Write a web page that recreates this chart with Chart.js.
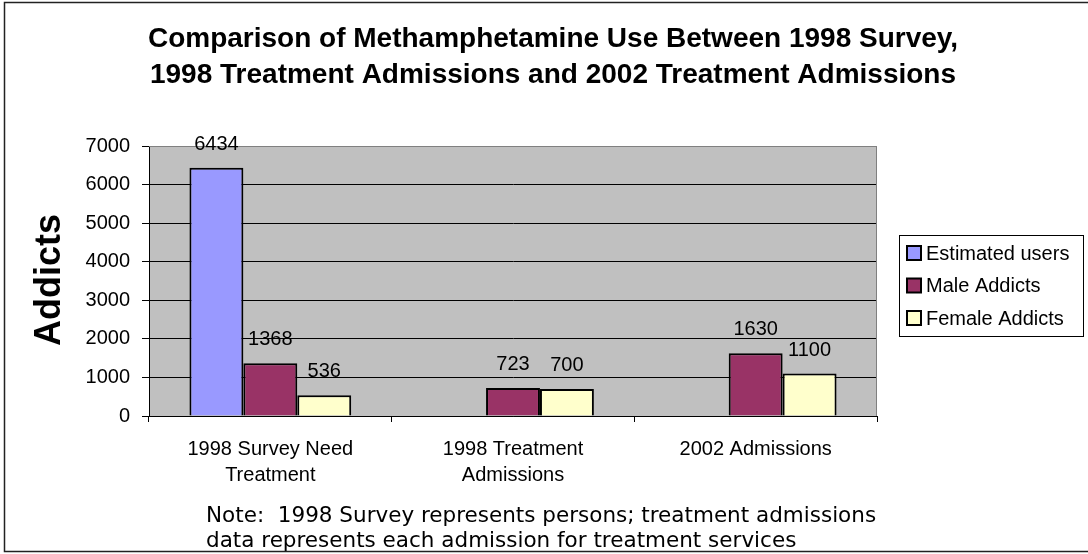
<!DOCTYPE html>
<html>
<head>
<meta charset="utf-8">
<script src="https://cdn.jsdelivr.net/npm/chart.js@4/dist/chart.umd.min.js"></script>
<style>
  html, body { margin: 0; padding: 0; background: #ffffff; }
  #wrap { width: 1088px; height: 554px; }
</style>
</head>
<body>
<div id="wrap"><canvas id="c" width="1088" height="554"></canvas></div>
<script>
// Categories (multi-line axis labels)
const categories = [
  ['1998 Survey Need', 'Treatment'],
  ['1998 Treatment', 'Admissions'],
  '2002 Admissions'
];
// Series values
const estimatedUsers = [6434, null, null];
const maleAddicts = [1368, 723, 1630];
const femaleAddicts = [536, 700, 1100];
// Y tick range
const yMin = 0, yMax = 7000, yStep = 1000;

const titleLines = [
  'Comparison of Methamphetamine Use Between 1998 Survey,',
  '1998 Treatment Admissions and 2002 Treatment Admissions'
];
const yTitle = 'Addicts';
const noteLines = [
  'Note:  1998 Survey represents persons; treatment admissions',
  'data represents each admission for treatment services'
];

const SANS = '"Liberation Sans", Arial, sans-serif';

// Gray plot background with a darker frame on top/right
const plotBackground = {
  id: 'plotBackground',
  beforeDraw(chart) {
    const { ctx, chartArea: a } = chart;
    ctx.save();
    ctx.fillStyle = '#ffffff';
    ctx.fillRect(0, 0, chart.width, chart.height);
    ctx.fillStyle = '#c0c0c0';
    ctx.fillRect(a.left, a.top, a.right - a.left, a.bottom - a.top);
    ctx.restore();
  },
  beforeDatasetsDraw(chart) {
    const { ctx, chartArea: a } = chart;
    ctx.save();
    ctx.strokeStyle = '#808080';
    ctx.lineWidth = 1;
    ctx.beginPath();
    ctx.moveTo(a.left, a.top + 0.5);
    ctx.lineTo(a.right - 0.5, a.top + 0.5);
    ctx.lineTo(a.right - 0.5, a.bottom);
    ctx.stroke();
    ctx.restore();
  }
};

// Value labels above each bar
const valueLabels = {
  id: 'valueLabels',
  afterDatasetsDraw(chart) {
    const { ctx } = chart;
    ctx.save();
    ctx.font = '20px ' + SANS;
    ctx.fillStyle = '#000';
    ctx.textAlign = 'center';
    ctx.textBaseline = 'alphabetic';
    chart.data.datasets.forEach((ds, i) => {
      const meta = chart.getDatasetMeta(i);
      meta.data.forEach((el, j) => {
        const v = ds.data[j];
        if (v === null || v === undefined) return;
        ctx.fillText(String(v), el.x, el.y - 18);
      });
    });
    ctx.restore();
  }
};

// Title, axis title, note, boxed legend and outer frame
const decorations = {
  id: 'decorations',
  afterDraw(chart) {
    const { ctx } = chart;
    ctx.save();
    ctx.fillStyle = '#000';

    // Title
    ctx.font = 'bold 28px ' + SANS;
    ctx.textAlign = 'center';
    ctx.textBaseline = 'middle';
    ctx.fillText(titleLines[0], 553, 39);
    ctx.fillText(titleLines[1], 553, 75);

    // Y axis title
    ctx.save();
    ctx.translate(50, 280);
    ctx.rotate(-Math.PI / 2);
    ctx.font = 'bold 36px ' + SANS;
    ctx.fillText(yTitle, 0, 0);
    ctx.restore();

    // Note
    ctx.font = '21.5px "DejaVu Sans", Verdana, sans-serif';
    ctx.textAlign = 'left';
    ctx.textBaseline = 'alphabetic';
    ctx.fillText(noteLines[0], 206, 522);
    ctx.fillText(noteLines[1], 206, 547);

    // Legend
    const lx = 899.5, ly = 235.5, lw = 184, lh = 101;
    ctx.fillStyle = '#ffffff';
    ctx.fillRect(lx, ly, lw, lh);
    ctx.strokeStyle = '#000';
    ctx.lineWidth = 1;
    ctx.strokeRect(lx, ly, lw, lh);
    ctx.font = '20px ' + SANS;
    ctx.textBaseline = 'middle';
    chart.data.datasets.forEach((ds, i) => {
      const cy = 253 + i * 32.5;
      ctx.fillStyle = ds.backgroundColor;
      ctx.fillRect(907, cy - 7, 14, 14);
      ctx.strokeStyle = '#000';
      ctx.lineWidth = 2;
      ctx.strokeRect(907, cy - 7, 14, 14);
      ctx.fillStyle = '#000';
      ctx.fillText(ds.label, 926, cy + 1);
    });

    // Outer frame
    ctx.strokeStyle = '#222';
    ctx.lineWidth = 1.5;
    ctx.strokeRect(4.5, 2.5, 1100, 549);
    ctx.restore();
  }
};

new Chart(document.getElementById('c'), {
  type: 'bar',
  data: {
    labels: categories,
    datasets: [
      { label: 'Estimated users', data: estimatedUsers, backgroundColor: '#9999ff',
        borderColor: '#000', borderWidth: 2 },
      { label: 'Male Addicts', data: maleAddicts, backgroundColor: '#993366',
        borderColor: '#000', borderWidth: 2 },
      { label: 'Female Addicts', data: femaleAddicts, backgroundColor: '#ffffcc',
        borderColor: '#000', borderWidth: 2 }
    ]
  },
  options: {
    responsive: false,
    animation: false,
    layout: { padding: { top: 146, right: 211, bottom: 0, left: 0 } },
    datasets: { bar: { categoryPercentage: 3 / 4.5, barPercentage: 1 } },
    plugins: {
      legend: { display: false },
      title: { display: false },
      tooltip: { enabled: false }
    },
    scales: {
      x: {
        offset: true,
        grid: { display: true, drawOnChartArea: false, offset: true,
                color: '#000', tickLength: 6, lineWidth: 1 },
        border: { display: true, color: '#000', width: 1 },
        ticks: { color: '#000', padding: 14, maxRotation: 0, autoSkip: false,
                 font: { family: SANS, size: 20, lineHeight: 1.3 } },
        afterFit(scale) { scale.height = 554 - 416; }
      },
      y: {
        min: yMin, max: yMax,
        grid: {
          color: (c) => (c.tick && c.tick.value === yMax ? '#808080' : '#000'),
          tickColor: '#000', tickLength: 7, lineWidth: 1
        },
        border: { display: true, color: '#000', width: 1 },
        ticks: { stepSize: yStep, color: '#000', padding: 12,
                 font: { family: SANS, size: 20 },
                 callback: (v) => String(v) },
        afterFit(scale) { scale.width = 149; }
      }
    }
  },
  plugins: [plotBackground, valueLabels, decorations]
});
</script>
</body>
</html>
